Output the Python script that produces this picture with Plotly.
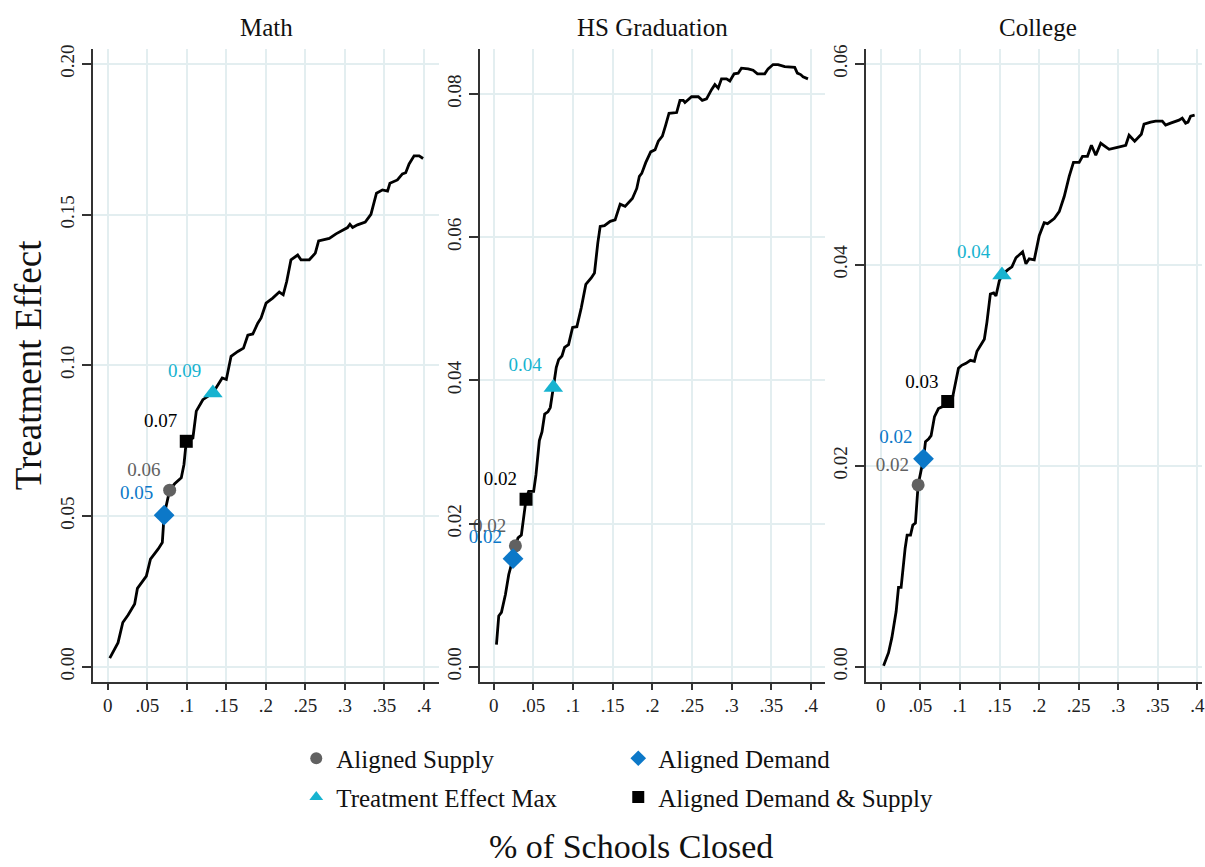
import plotly.graph_objects as go

# ---- Curves: treatment effect vs share of schools closed ----
math_x = [0.0025, 0.013, 0.019, 0.0257, 0.034, 0.0375, 0.0488, 0.054, 0.0636, 0.069, 0.0707, 0.0713,
          0.0783, 0.0846, 0.093, 0.0964, 0.0993, 0.1077, 0.112, 0.1203, 0.133, 0.1448, 0.15, 0.156,
          0.1646, 0.1717, 0.1772, 0.1835, 0.1898, 0.194, 0.2003, 0.2087, 0.217, 0.222, 0.2264, 0.2318,
          0.2403, 0.2445, 0.255, 0.2626, 0.2668, 0.274, 0.2803, 0.2888, 0.2971, 0.3034, 0.3064, 0.3098,
          0.316, 0.3258, 0.333, 0.340, 0.3476, 0.354, 0.357, 0.3665, 0.3728, 0.377, 0.3813, 0.3876,
          0.394, 0.399]
math_y = [0.0029, 0.008, 0.0147, 0.0172, 0.0208, 0.026, 0.0301, 0.0357, 0.039, 0.0412, 0.048, 0.0503,
          0.0586, 0.0607, 0.0627, 0.0671, 0.0748, 0.0759, 0.0848, 0.0886, 0.0908, 0.0958, 0.0953, 0.103,
          0.1046, 0.1057, 0.110, 0.1104, 0.114, 0.1157, 0.1206, 0.1223, 0.1243, 0.1234, 0.1278, 0.135,
          0.1366, 0.135, 0.135, 0.1372, 0.1413, 0.1418, 0.1421, 0.1436, 0.1449, 0.1457, 0.1468, 0.1457,
          0.1466, 0.1475, 0.1501, 0.1571, 0.1582, 0.1578, 0.1604, 0.1615, 0.1635, 0.1639, 0.1668, 0.1695,
          0.1695, 0.1686]

hs_x = [0.0034, 0.0063, 0.0097, 0.0147, 0.0189, 0.0243, 0.0273, 0.0306, 0.0348, 0.0386, 0.0407, 0.044,
        0.0503, 0.0532, 0.0575, 0.0608, 0.0642, 0.0683, 0.0713, 0.0751, 0.0788, 0.0818, 0.086, 0.0893,
        0.0943, 0.0994, 0.1048, 0.1103, 0.1161, 0.1229, 0.127, 0.1312, 0.1342, 0.1396, 0.1468, 0.153,
        0.1594, 0.1656, 0.1711, 0.1748, 0.1803, 0.1836, 0.1866, 0.1916, 0.1979, 0.2034, 0.2075, 0.2126,
        0.2167, 0.221, 0.2306, 0.2348, 0.239, 0.2411, 0.2494, 0.2579, 0.2629, 0.2683, 0.2746, 0.2788,
        0.283, 0.2872, 0.2935, 0.2977, 0.3031, 0.3082, 0.3123, 0.3208, 0.327, 0.3325, 0.3417, 0.3459,
        0.3522, 0.3585, 0.3669, 0.3732, 0.3795, 0.3828, 0.387, 0.39, 0.3962]
hs_y = [0.0031, 0.0071, 0.0076, 0.0101, 0.0129, 0.0151, 0.0169, 0.018, 0.0184, 0.0217, 0.0234, 0.0245,
        0.0245, 0.0268, 0.0316, 0.0328, 0.0353, 0.0356, 0.0362, 0.039, 0.0418, 0.0429, 0.0434, 0.0446,
        0.045, 0.0474, 0.0475, 0.0501, 0.0534, 0.0543, 0.055, 0.0592, 0.0615, 0.0616, 0.0622, 0.0624,
        0.0646, 0.0643, 0.065, 0.0654, 0.0668, 0.0685, 0.0689, 0.0704, 0.0719, 0.0722, 0.0734, 0.0741,
        0.0756, 0.0773, 0.0774, 0.0791, 0.0791, 0.0788, 0.0796, 0.0796, 0.0791, 0.0793, 0.0806, 0.0813,
        0.0808, 0.0821, 0.0821, 0.0818, 0.0828, 0.0829, 0.0836, 0.0835, 0.0833, 0.0828, 0.0828, 0.0835,
        0.0841, 0.0841, 0.0838, 0.0838, 0.0837, 0.0829, 0.0827, 0.0824, 0.0821]

col_x = [0.0034, 0.0097, 0.0139, 0.0193, 0.0223, 0.0256, 0.0307, 0.0332, 0.0375, 0.0404, 0.0437, 0.0471,
         0.0539, 0.0564, 0.0606, 0.0635, 0.0678, 0.0728, 0.0782, 0.0845, 0.0896, 0.0938, 0.0981, 0.1022,
         0.1076, 0.1132, 0.1182, 0.1215, 0.1266, 0.1308, 0.1341, 0.1384, 0.1426, 0.1455, 0.1497, 0.1531,
         0.1603, 0.1657, 0.1708, 0.1792, 0.1834, 0.1876, 0.1939, 0.2002, 0.2065, 0.2107, 0.2192, 0.2255,
         0.2318, 0.2381, 0.2435, 0.2507, 0.2549, 0.2612, 0.2662, 0.2717, 0.278, 0.2886, 0.299, 0.3096,
         0.3138, 0.3209, 0.3293, 0.3327, 0.3411, 0.3474, 0.3558, 0.36, 0.3663, 0.3769, 0.381, 0.3853,
         0.3883, 0.3916, 0.3967]
col_y = [0.0001, 0.0014, 0.0029, 0.0055, 0.0079, 0.0079, 0.0118, 0.0131, 0.0131, 0.0141, 0.0143, 0.0181,
         0.0207, 0.0224, 0.0227, 0.023, 0.0249, 0.0257, 0.0259, 0.0264, 0.0264, 0.028, 0.0297, 0.03,
         0.0302, 0.0305, 0.0304, 0.0314, 0.0321, 0.0326, 0.0343, 0.0371, 0.0372, 0.0369, 0.0384, 0.039,
         0.0395, 0.0398, 0.0407, 0.0413, 0.0401, 0.0406, 0.0405, 0.0429, 0.0442, 0.0441, 0.0446, 0.0453,
         0.0468, 0.0488, 0.0502, 0.0502, 0.0508, 0.0508, 0.0519, 0.0509, 0.0521, 0.0515, 0.0517, 0.0519,
         0.0529, 0.0523, 0.053, 0.054, 0.0542, 0.0543, 0.0543, 0.0539, 0.0541, 0.0544, 0.0546, 0.0541,
         0.0542, 0.0548, 0.0549]

# ---- Highlighted scenarios, one value per panel (Math, HS Graduation, College) ----
supply_x = [0.0783, 0.0273, 0.0471]
supply_y = [0.0586, 0.0169, 0.0181]
demand_x = [0.0713, 0.0243, 0.0539]
demand_y = [0.0503, 0.0151, 0.0207]
temax_x = [0.133, 0.0751, 0.1531]
temax_y = [0.0908, 0.039, 0.039]
both_x = [0.0993, 0.0407, 0.0845]
both_y = [0.0748, 0.0234, 0.0264]

panel_titles = ["Math", "HS Graduation", "College"]
x_tickvals = [0, 0.05, 0.1, 0.15, 0.2, 0.25, 0.3, 0.35, 0.4]
x_ticktext = ["0", ".05", ".1", ".15", ".2", ".25", ".3", ".35", ".4"]
y_tickvals = [[0, 0.05, 0.10, 0.15, 0.20], [0, 0.02, 0.04, 0.06, 0.08], [0, 0.02, 0.04, 0.06]]

FONT = "Liberation Serif"
C_SUPPLY = "#616161"
C_DEMAND = "#0c78c8"
C_TEMAX = "#17b3d0"
C_BOTH = "#000000"
GRID = "#e3eef0"
AXIS = "#333333"

W, H = 1205, 867
x_domains = [(93 / W, 440 / W), (481 / W, 827 / W), (868 / W, 1.0)]
y_domain = (1 - 681 / H, 1 - 45 / H)
x_ranges = [(-0.019, 0.419), (-0.0176, 0.4176), (-0.019, 0.406)]
y_ranges = [(-0.005, 0.205), (-0.0021, 0.0863), (-0.0015, 0.0615)]

curves = [(math_x, math_y), (hs_x, hs_y), (col_x, col_y)]

fig = go.Figure()

specs = [
    ("Aligned Supply", supply_x, supply_y, "circle", 13, C_SUPPLY, "legend"),
    ("Aligned Demand", demand_x, demand_y, "diamond", 16, C_DEMAND, "legend"),
    ("Treatment Effect Max", temax_x, temax_y, "triangle-up", 17, C_TEMAX, "legend2"),
    ("Aligned Demand & Supply", both_x, both_y, "square", 13, C_BOTH, "legend2"),
]

for i in range(3):
    xa = "x" if i == 0 else f"x{i + 1}"
    ya = "y" if i == 0 else f"y{i + 1}"
    cx, cy = curves[i]
    fig.add_trace(go.Scatter(x=cx, y=cy, mode="lines", line=dict(color="black", width=2.8),
                             xaxis=xa, yaxis=ya, showlegend=False, hoverinfo="skip"))
    for name, sx, sy, sym, size, col, leg in specs:
        fig.add_trace(go.Scatter(
            x=[sx[i]], y=[sy[i]], mode="markers+text",
            marker=dict(symbol=sym, size=size, color=col, line=dict(width=0)),
            text=[f"{sy[i]:.2f}"], textposition="top left",
            textfont=dict(family=FONT, size=19, color=col),
            xaxis=xa, yaxis=ya, name=name, legend=leg,
            showlegend=(i == 0), legendgroup=name, cliponaxis=False))

axis_common = dict(showline=True, linecolor=AXIS, linewidth=1.5, ticks="outside",
                   tickcolor=AXIS, tickwidth=1.5, showgrid=True, gridcolor=GRID,
                   gridwidth=1.6, zeroline=False, mirror=False, ticklabeloverflow="allow",
                   tickfont=dict(family=FONT, size=19, color="#222222"))

layout_axes = {}
for i in range(3):
    sx = "xaxis" if i == 0 else f"xaxis{i + 1}"
    sy = "yaxis" if i == 0 else f"yaxis{i + 1}"
    layout_axes[sx] = dict(axis_common, domain=list(x_domains[i]), range=list(x_ranges[i]),
                           anchor="y" if i == 0 else f"y{i + 1}",
                           tickvals=x_tickvals, ticktext=x_ticktext, ticklen=6)
    layout_axes[sy] = dict(axis_common, domain=list(y_domain), range=list(y_ranges[i]),
                           anchor="x" if i == 0 else f"x{i + 1}",
                           tickvals=y_tickvals[i], tickformat=".2f", tickangle=-90, ticklen=9)

annotations = []
title_centers = [267, 654, 1041]
for t, cx in zip(panel_titles, title_centers):
    annotations.append(dict(text=t, x=cx / W, y=1 - 24 / H, xref="paper", yref="paper",
                            showarrow=False, font=dict(family=FONT, size=25, color="#111111"),
                            xanchor="center", yanchor="middle"))
annotations.append(dict(text="Treatment Effect", x=28 / W, y=1 - 363 / H, xref="paper", yref="paper",
                        showarrow=False, textangle=-90,
                        font=dict(family=FONT, size=37, color="#111111"),
                        xanchor="center", yanchor="middle"))
annotations.append(dict(text="% of Schools Closed", x=633 / W, y=1 - 846 / H, xref="paper", yref="paper",
                        showarrow=False, font=dict(family=FONT, size=34, color="#111111"),
                        xanchor="center", yanchor="middle"))

legend_common = dict(orientation="h", xanchor="left", yanchor="middle", bgcolor="rgba(0,0,0,0)",
                     font=dict(family=FONT, size=25, color="#111111"),
                     entrywidth=277, entrywidthmode="pixels", itemsizing="constant")

fig.update_layout(
    width=W, height=H, margin=dict(l=0, r=0, t=0, b=0),
    paper_bgcolor="white", plot_bgcolor="white",
    showlegend=True,
    legend=dict(legend_common, x=297 / W, y=1 - 758 / H),
    legend2=dict(legend_common, x=297 / W, y=1 - 797 / H),
    annotations=annotations,
    **layout_axes,
)

fig.write_html("out.html")
